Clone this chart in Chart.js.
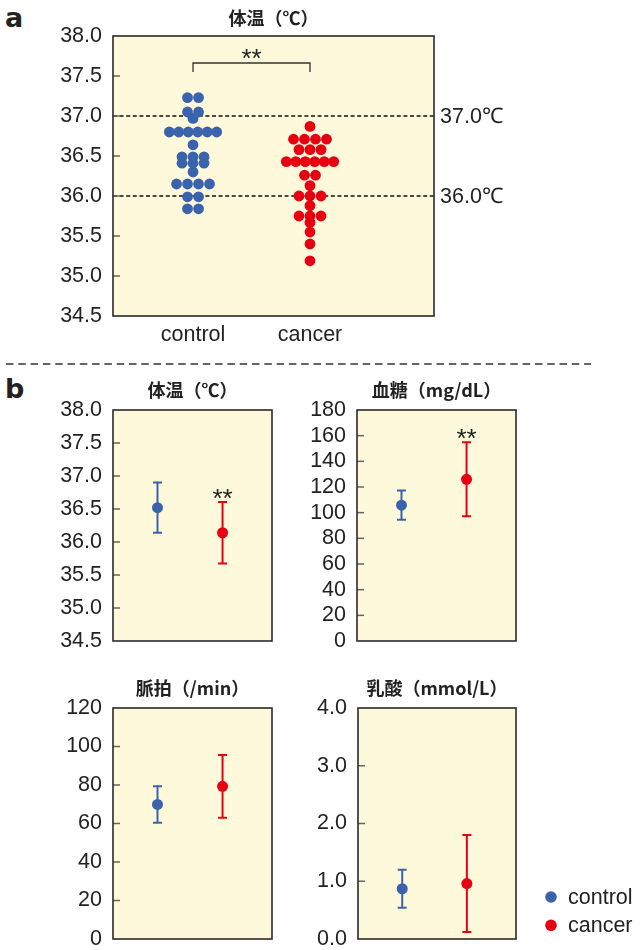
<!DOCTYPE html>
<html>
<head>
<meta charset="utf-8">
<script src="https://cdn.jsdelivr.net/npm/chart.js@4.4.1/dist/chart.umd.min.js"></script>
<style>
  body { margin: 0; background: #fff; width: 644px; height: 950px; position: relative; overflow: hidden; }
  canvas { position: absolute; }
  svg { position: absolute; left: 0; top: 0; }
</style>
</head>
<body>
<svg width="644" height="950">
  <text x="5" y="27" font-family="DejaVu Sans" font-weight="bold" font-size="27" fill="#222">a</text>
  <text x="5" y="398" font-family="DejaVu Sans" font-weight="bold" font-size="27" fill="#222">b</text>
  <line x1="6" y1="364" x2="591" y2="364" stroke="#333" stroke-width="1.3" stroke-dasharray="7.5,4.8"/>
</svg>
<canvas id="chartA"></canvas>
<canvas id="chartTemp"></canvas>
<canvas id="chartGlucose"></canvas>
<canvas id="chartPulse"></canvas>
<canvas id="chartLactate"></canvas>
<script>
// groups
const groups = ["control", "cancer"];
const groupColors = ["#3b63ad", "#e60012"];

// a: individual body temperatures (one entry per subject)
const controlTemps = [37.23, 37.23, 37.05, 37.05, 36.97,
  36.80, 36.80, 36.80, 36.80, 36.80, 36.80, 36.64,
  36.49, 36.49, 36.49, 36.41, 36.41, 36.41, 36.30,
  36.15, 36.15, 36.15, 36.15, 35.99, 35.99, 35.84, 35.84];
const cancerTemps = [36.87, 36.71, 36.71, 36.71, 36.71,
  36.58, 36.58, 36.58, 36.43, 36.43, 36.43, 36.43, 36.43, 36.43,
  36.26, 36.26, 36.13, 36.00, 36.00, 36.00, 35.88,
  35.75, 35.75, 35.75, 35.67, 35.55, 35.40, 35.19];
const refLines = [37.0, 36.0];

// b: mean and SD per group [control, cancer]
const tempMean = [36.52, 36.14];
const tempSd = [0.38, 0.465];
const glucoseMean = [105.8, 126.0];
const glucoseSd = [11.4, 28.8];
const pulseMean = [69.9, 79.3];
const pulseSd = [9.5, 16.3];
const lactateMean = [0.87, 0.96];
const lactateSd = [0.33, 0.84];
const tempSig = ["", "**"];
const glucoseSig = ["", "**"];
const pulseSig = ["", ""];
const lactateSig = ["", ""];

// tick labels
const tempTicks = [34.5, 35.0, 35.5, 36.0, 36.5, 37.0, 37.5, 38.0];
const glucoseTicks = [0, 20, 40, 60, 80, 100, 120, 140, 160, 180];
const pulseTicks = [0, 20, 40, 60, 80, 100, 120];
const lactateTicks = [0, 1, 2, 3, 4];

const TXT = "#222";
const FONT = '"Liberation Sans", Arial, sans-serif';
const CJK = '"Noto Sans CJK JP", sans-serif';
Chart.defaults.font.family = FONT;
Chart.defaults.font.size = 21.5;
Chart.defaults.color = TXT;

// place a canvas and return layout padding so the plot area lands on `plot`
function place(id, box, plot, xAxisH) {
    const cv = document.getElementById(id);
    cv.style.left = box.x + "px";
    cv.style.top = box.y + "px";
    cv.width = box.w;
    cv.height = box.h;
    return {
        left: 0,
        top: plot.t - box.y,
        right: box.x + box.w - plot.r,
        bottom: box.y + box.h - plot.b - (xAxisH || 0),
        yWidth: plot.l - box.x,
    };
}

function yScale(ticks, decimals, width) {
    return {
        type: "linear",
        min: ticks[0],
        max: ticks[ticks.length - 1],
        afterBuildTicks: (s) => { s.ticks = ticks.map((v) => ({ value: v })); },
        afterFit: (s) => { s.width = width; s.paddingTop = 0; s.paddingBottom = 0; },
        ticks: { padding: 11, autoSkip: false, callback: (v) => Number(v).toFixed(decimals) },
        grid: { display: false, drawTicks: false },
        border: { display: false },
    };
}

// yellow plot box, inner ticks, frame and heading
const frame = {
    id: "frame",
    beforeDraw(chart) {
        const { ctx, chartArea: a } = chart;
        ctx.save();
        ctx.fillStyle = "#fdf9da";
        ctx.fillRect(a.left, a.top, a.width, a.height);
        ctx.restore();
    },
    afterDraw(chart, args, opts) {
        const { ctx, chartArea: a } = chart;
        const y = chart.scales.y;
        ctx.save();
        ctx.strokeStyle = "#666";
        ctx.lineWidth = 1.5;
        y.ticks.forEach((t) => {
            if (t.value === y.min || t.value === y.max) return;
            const py = y.getPixelForValue(t.value);
            ctx.beginPath();
            ctx.moveTo(a.left, py);
            ctx.lineTo(a.left + 7, py);
            ctx.stroke();
        });
        ctx.strokeStyle = "#2a2a2a";
        ctx.lineWidth = 1.6;
        ctx.strokeRect(a.left, a.top, a.width, a.height);
        ctx.fillStyle = TXT;
        ctx.font = "bold 18px " + CJK;
        ctx.textAlign = "center";
        ctx.textBaseline = "middle";
        ctx.fillText(opts.title, (a.left + a.right) / 2, a.top - opts.gap);
        ctx.restore();
    },
};

// dashed reference lines, their labels and the significance bracket (panel a)
const guides = {
    id: "guides",
    beforeDatasetsDraw(chart) {
        const { ctx, chartArea: a, scales: { x, y } } = chart;
        ctx.save();
        ctx.strokeStyle = "#111";
        ctx.lineWidth = 1.4;
        ctx.setLineDash([4, 2.6]);
        ctx.fillStyle = TXT;
        ctx.font = "21.5px " + FONT;
        ctx.textAlign = "left";
        ctx.textBaseline = "middle";
        refLines.forEach((v) => {
            const py = y.getPixelForValue(v);
            ctx.beginPath();
            ctx.moveTo(a.left, py);
            ctx.lineTo(a.right, py);
            ctx.stroke();
            ctx.fillText(v.toFixed(1) + "℃", a.right + 6, py + 1);
        });
        ctx.setLineDash([]);
        const x0 = x.getPixelForValue(0), x1 = x.getPixelForValue(1);
        ctx.strokeStyle = "#333";
        ctx.lineWidth = 1.3;
        ctx.beginPath();
        ctx.moveTo(x0, a.top + 36);
        ctx.lineTo(x0, a.top + 27);
        ctx.lineTo(x1, a.top + 27);
        ctx.lineTo(x1, a.top + 36);
        ctx.stroke();
        ctx.font = "26px " + FONT;
        ctx.textAlign = "center";
        ctx.textBaseline = "alphabetic";
        ctx.fillText("**", (x0 + x1) / 2, a.top + 31);
        ctx.restore();
    },
};

// mean ± SD whiskers and significance marks (panel b)
const errorBars = {
    id: "errorBars",
    beforeDatasetsDraw(chart) {
        const { ctx, scales: { x, y } } = chart;
        ctx.save();
        chart.data.datasets.forEach((ds) => {
            const p = ds.data[0];
            const px = x.getPixelForValue(p.x);
            const hi = y.getPixelForValue(p.y + ds.sd);
            const lo = y.getPixelForValue(p.y - ds.sd);
            ctx.strokeStyle = ds.backgroundColor;
            ctx.lineWidth = 2;
            ctx.beginPath();
            ctx.moveTo(px, hi); ctx.lineTo(px, lo);
            ctx.moveTo(px - 4.5, hi); ctx.lineTo(px + 4.5, hi);
            ctx.moveTo(px - 4.5, lo); ctx.lineTo(px + 4.5, lo);
            ctx.stroke();
            if (ds.sig) {
                ctx.fillStyle = TXT;
                ctx.font = "26px " + FONT;
                ctx.textAlign = "center";
                ctx.textBaseline = "alphabetic";
                ctx.fillText(ds.sig, px, hi + 4.5);
            }
        });
        ctx.restore();
    },
};

// legend at the right of the last panel
const sideLegend = {
    id: "sideLegend",
    afterDraw(chart) {
        const { ctx, chartArea: a } = chart;
        ctx.save();
        chart.data.datasets.forEach((ds, i) => {
            const ly = a.bottom - 42 + i * 28.3;
            ctx.fillStyle = ds.backgroundColor;
            ctx.beginPath();
            ctx.arc(a.right + 35, ly, 5.8, 0, Math.PI * 2);
            ctx.fill();
            ctx.fillStyle = TXT;
            ctx.font = "21.5px " + FONT;
            ctx.textAlign = "left";
            ctx.textBaseline = "middle";
            ctx.fillText(ds.label, a.right + 52, ly + 1);
        });
        ctx.restore();
    },
};

// stack equal values side by side around the group centre
function swarm(values, center) {
    const rows = new Map();
    values.forEach((v) => rows.set(v, (rows.get(v) || 0) + 1));
    const pts = [];
    rows.forEach((n, v) => {
        const gap = n >= 5 ? 0.081 : 0.094;
        for (let i = 0; i < n; i++) pts.push({ x: center + (i - (n - 1) / 2) * gap, y: v });
    });
    return pts;
}

// ---- panel a
(function () {
    const pad = place("chartA", { x: 0, y: 0, w: 644, h: 352 }, { l: 113, t: 36, r: 434, b: 316 }, 30);
    new Chart(document.getElementById("chartA"), {
        type: "scatter",
        data: {
            datasets: [controlTemps, cancerTemps].map((vals, i) => ({
                label: groups[i],
                data: swarm(vals, i),
                backgroundColor: groupColors[i],
                borderColor: groupColors[i],
                borderWidth: 0,
                pointRadius: 5.4,
                pointHoverRadius: 5.4,
            })),
        },
        options: {
            responsive: false,
            animation: false,
            events: [],
            layout: { padding: { left: pad.left, top: pad.top, right: pad.right, bottom: pad.bottom } },
            scales: {
                x: {
                    type: "linear",
                    min: -0.684,
                    max: 2.06,
                    afterBuildTicks: (s) => { s.ticks = groups.map((g, i) => ({ value: i })); },
                    afterFit: (s) => { s.height = 30; },
                    ticks: { padding: 6, autoSkip: false, callback: (v) => groups[v] },
                    grid: { display: false, drawTicks: false },
                    border: { display: false },
                },
                y: yScale(tempTicks, 1, pad.yWidth),
            },
            plugins: {
                legend: { display: false },
                tooltip: { enabled: false },
                frame: { title: "体温（℃）", gap: 18 },
            },
        },
        plugins: [frame, guides],
    });
})();

// ---- panel b
function summaryChart(id, box, plot, title, means, sds, sigs, ticks, decimals, extra) {
    const pad = place(id, box, plot, 0);
    new Chart(document.getElementById(id), {
        type: "scatter",
        data: {
            datasets: groups.map((g, i) => ({
                label: g,
                data: [{ x: i, y: means[i] }],
                sd: sds[i],
                sig: sigs[i],
                backgroundColor: groupColors[i],
                borderColor: groupColors[i],
                borderWidth: 0,
                pointRadius: 5.5,
                pointHoverRadius: 5.5,
            })),
        },
        options: {
            responsive: false,
            animation: false,
            events: [],
            layout: { padding: { left: pad.left, top: pad.top, right: pad.right, bottom: pad.bottom } },
            scales: {
                x: { type: "linear", min: -0.684, max: 1.76, display: false },
                y: yScale(ticks, decimals, pad.yWidth),
            },
            plugins: {
                legend: { display: false },
                tooltip: { enabled: false },
                frame: { title: title, gap: 20 },
            },
        },
        plugins: [frame, errorBars].concat(extra || []),
    });
}

summaryChart("chartTemp", { x: 0, y: 368, w: 290, h: 290 }, { l: 113, t: 410, r: 272, b: 641 },
    "体温（℃）", tempMean, tempSd, tempSig, tempTicks, 1);
summaryChart("chartGlucose", { x: 290, y: 368, w: 300, h: 290 }, { l: 357, t: 410, r: 516, b: 641 },
    "血糖（mg/dL）", glucoseMean, glucoseSd, glucoseSig, glucoseTicks, 0);
summaryChart("chartPulse", { x: 0, y: 665, w: 290, h: 285 }, { l: 113, t: 708, r: 272, b: 939 },
    "脈拍（/min）", pulseMean, pulseSd, pulseSig, pulseTicks, 0);
summaryChart("chartLactate", { x: 290, y: 665, w: 354, h: 285 }, { l: 358, t: 708, r: 516, b: 939 },
    "乳酸（mmol/L）", lactateMean, lactateSd, lactateSig, lactateTicks, 1, [sideLegend]);
</script>
</body>
</html>
